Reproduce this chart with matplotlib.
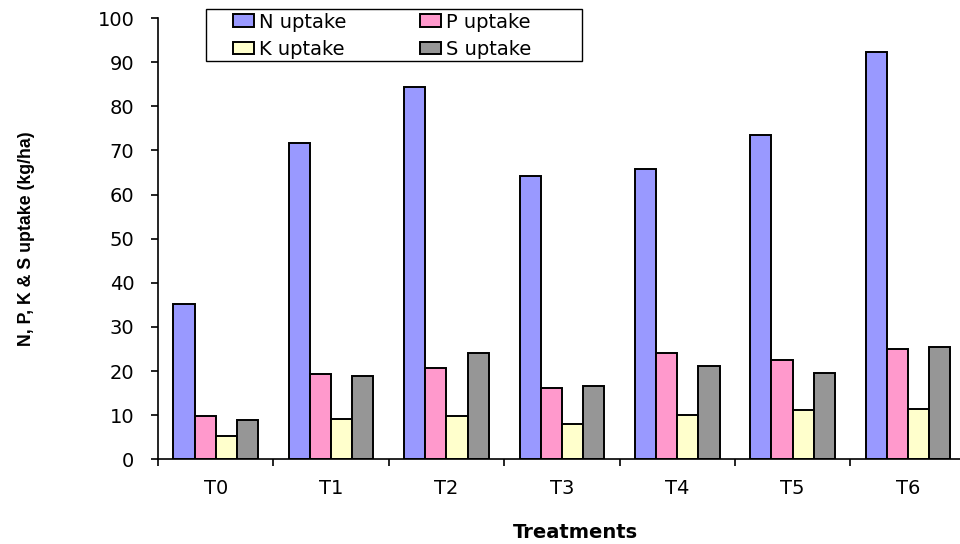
import numpy as np
import matplotlib.pyplot as plt
from matplotlib.patches import Rectangle

plt.rcParams['font.family'] = ['DejaVu Sans']

treatments = ['T0', 'T1', 'T2', 'T3', 'T4', 'T5', 'T6']
n_uptake = [35.2, 71.7, 84.3, 64.3, 65.8, 73.4, 92.2]
p_uptake = [9.9, 19.3, 20.6, 16.2, 24.2, 22.4, 24.9]
k_uptake = [5.3, 9.1, 9.7, 8.0, 10.0, 11.1, 11.5]
s_uptake = [9.0, 18.9, 24.2, 16.5, 21.1, 19.6, 25.4]

series = [('N uptake', n_uptake, '#9999FF'),
          ('P uptake', p_uptake, '#FF99CC'),
          ('K uptake', k_uptake, '#FFFFCC'),
          ('S uptake', s_uptake, '#969696')]

W, H = 960, 544
fig = plt.figure(figsize=(W / 100, H / 100), dpi=100)
ax = fig.add_axes([158/W, 1 - 459.3/H, (965.7 - 158)/W, (459.3 - 18)/H])

x = np.arange(len(treatments))
w = 0.1835
bars = []
for i, (name, vals, col) in enumerate(series):
    b = ax.bar(x + (i - 1.5) * w, vals, w, color=col, edgecolor='black',
               linewidth=1.4, label=name)
    bars.append(b)

ax.set_xlim(-0.5, len(treatments) - 0.5)
ax.set_ylim(0, 100)
ax.set_yticks(range(0, 101, 10))
ax.set_xticks(x)
ax.set_xticklabels(treatments)
ax.set_xticks(np.arange(-0.5, len(treatments)), minor=True)
ax.tick_params(axis='x', which='major', length=0, pad=14, labelsize=14)
ax.tick_params(axis='x', which='minor', length=5, width=1.2, direction='out')
ax.tick_params(axis='y', length=5, width=1.2, direction='out', pad=12, labelsize=14)
for s in ['top', 'right']:
    ax.spines[s].set_visible(False)
for s in ['left', 'bottom']:
    ax.spines[s].set_linewidth(1.2)

ax.set_ylabel('N, P, K & S uptake (kg/ha)', fontsize=12.8, fontweight='bold',
              family=['Liberation Sans', 'DejaVu Sans'])
ax.yaxis.set_label_coords(-0.152, 0.5)
fig.text(575/W, 1 - 532/H, 'Treatments', ha='center', va='center',
         fontsize=14, fontweight='bold')

# legend order: N, P in first row; K, S in second row
handles = [bars[0], bars[2], bars[1], bars[3]]
labels = ['N uptake', 'K uptake', 'P uptake', 'S uptake']
leg = fig.legend(handles, labels, ncol=2, loc='upper left',
                 bbox_to_anchor=(233/W, 1 - 12.5/H), borderaxespad=0,
                 borderpad=0, fontsize=14, frameon=False,
                 handlelength=1.1, handleheight=0.62,
                 handletextpad=0.22, columnspacing=3.8, labelspacing=0.42)
fig.patches.append(Rectangle((206/W, 1 - 61/H), (582 - 206)/W, (61 - 9)/H,
                             transform=fig.transFigure, fill=False,
                             edgecolor='black', linewidth=1.0))

fig.savefig('out.png', dpi=100)
